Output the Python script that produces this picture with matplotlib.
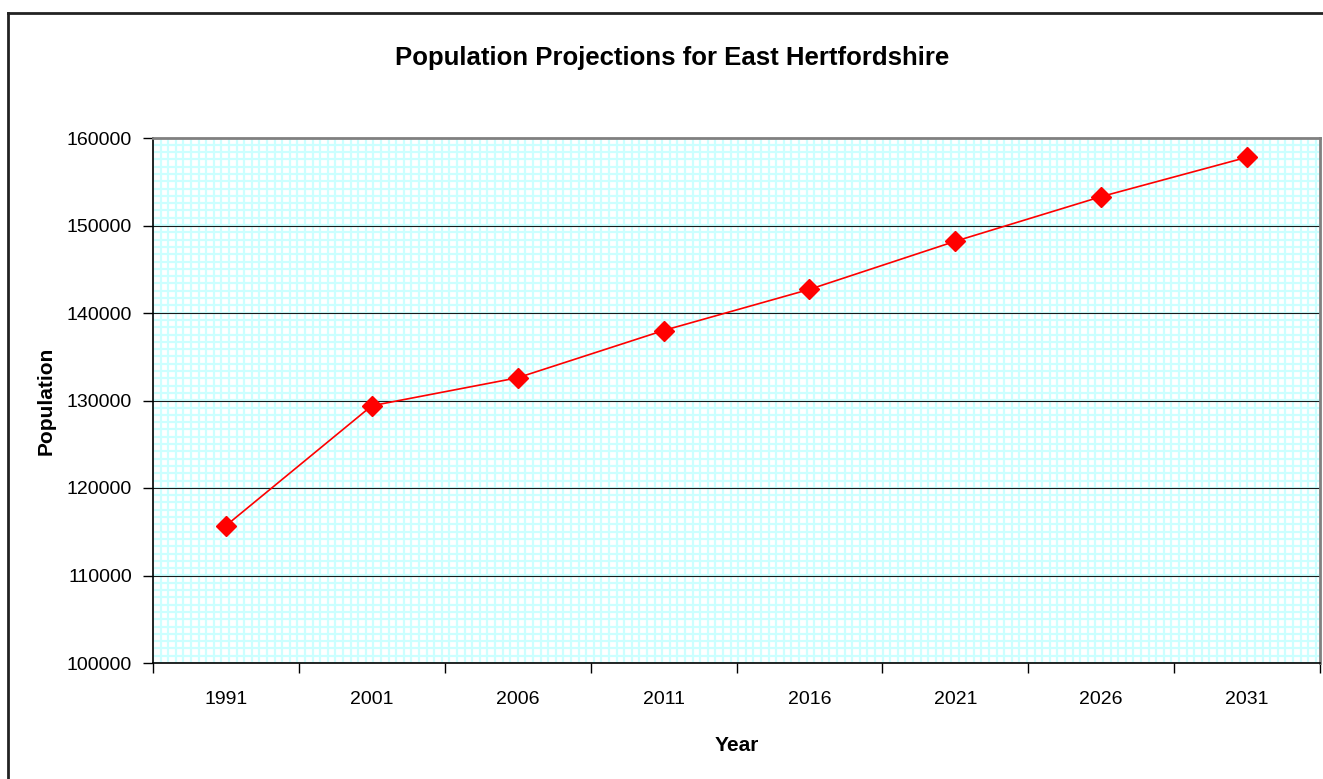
import numpy as np
import matplotlib.pyplot as plt
from matplotlib.lines import Line2D

plt.rcParams['font.family'] = ['Liberation Sans', 'DejaVu Sans']

years = ['1991', '2001', '2006', '2011', '2016', '2021', '2026', '2031']
population = [115700, 129400, 132600, 138000, 142700, 148200, 153300, 157800]
yticks = [100000, 110000, 120000, 130000, 140000, 150000, 160000]

fig = plt.figure(figsize=(13.23, 7.79), dpi=100)
ax = fig.add_axes([153/1323, 1-663/779, 1167/1323, 525/779])

# light cyan small-grid fill of the plot area
for xf in np.arange(0, 1, 7.6/1167):
    ax.axvline(xf * 8 - 0.5, color='#ccffff', lw=1.6, zorder=0)
for yf in np.arange(0, 1, 7.3/525):
    ax.axhline(100000 + yf * 60000, color='#ccffff', lw=1.6, zorder=0)

# major gridlines
for v in yticks[1:-1]:
    ax.axhline(v, color='#1a1a1a', lw=0.8, zorder=1)

x = np.arange(len(years))
ax.plot(x, population, color='red', lw=1.2, marker='D', markersize=10,
        markerfacecolor='red', markeredgecolor='red', zorder=3)

ax.set_xlim(-0.5, len(years) - 0.5)
ax.set_ylim(100000, 160000)
ax.set_yticks(yticks)
ax.set_yticklabels([str(v) for v in yticks], fontsize=14)

ax.set_xticks(np.arange(-0.5, len(years)), minor=False)
ax.set_xticklabels([])
ax.set_xticks(x, minor=True)
ax.set_xticklabels(years, minor=True, fontsize=14)
ax.tick_params(axis='x', which='major', length=7, width=1, direction='out')
ax.tick_params(axis='x', which='minor', length=0, pad=20)
ax.tick_params(axis='y', length=7, width=1, direction='out', pad=8)

ax.spines['left'].set_color('black')
ax.spines['bottom'].set_color('black')
ax.spines['left'].set_linewidth(1.2)
ax.spines['bottom'].set_linewidth(1.2)
ax.spines['top'].set_color('#808080')
ax.spines['right'].set_color('#808080')
ax.spines['top'].set_linewidth(2)
ax.spines['right'].set_linewidth(2)

ax.set_xlabel('Year', fontsize=15, fontweight='bold', labelpad=20)
ax.set_ylabel('Population', fontsize=15, fontweight='bold', labelpad=8)

fig.text(672/1323, 1 - 58/779, 'Population Projections for East Hertfordshire',
         ha='center', va='center', fontsize=18.5, fontweight='bold')

# outer chart frame
fig.add_artist(Line2D([8/1323, 8/1323], [0, 1 - 13/779], transform=fig.transFigure,
                      color='#222222', lw=2))
fig.add_artist(Line2D([8/1323, 1], [1 - 13/779, 1 - 13/779], transform=fig.transFigure,
                      color='#222222', lw=2))

fig.savefig('out.png', dpi=100)
